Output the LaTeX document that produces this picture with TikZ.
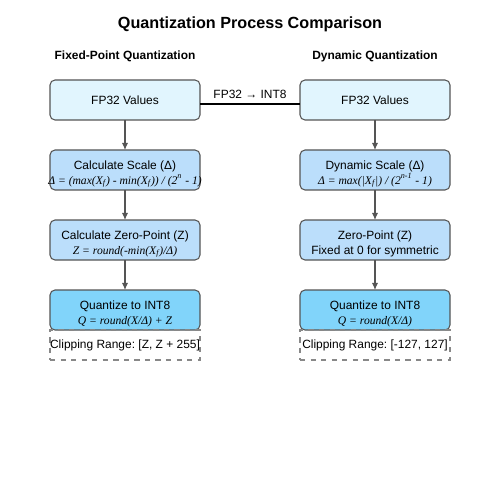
\documentclass[tikz,border=0pt]{standalone}
\usepackage{fontspec}
\setmainfont{Liberation Sans}
\newfontfamily\formfont{Liberation Serif}
\usetikzlibrary{arrows.meta, positioning}
\definecolor{fpfill}{HTML}{E1F5FE}
\definecolor{calcfill}{HTML}{BBDEFB}
\definecolor{quantfill}{HTML}{81D4FA}
\definecolor{edgegray}{HTML}{555555}
\newcommand{\fml}[1]{\makebox[2.8cm]{\formfont\itshape\fontsize{6.6pt}{7.5pt}\selectfont #1}}
\newcommand{\topgap}{\rule{0pt}{9.5pt}}
\frenchspacing

\begin{document}
\begin{tikzpicture}[
        node distance=0.6cm,
        box/.style={rectangle, draw=edgegray, line width=0.6pt, outer sep=0pt, rounded corners=0.1cm, minimum width=3cm, minimum height=0.8cm, align=center, font=\fontsize{6.8pt}{8pt}\selectfont, inner sep=1pt},
        clipbox/.style={rectangle, draw=edgegray!70, dashed, line width=0.6pt, outer sep=0pt, minimum width=3cm, minimum height=0.6cm, inner sep=0pt, font=\fontsize{6.8pt}{8pt}\selectfont},
        flow/.style={-{Latex[length=4pt, width=3.5pt]}, draw=edgegray, line width=0.6pt}
    ]
        \useasboundingbox (0,0) rectangle (10,-10);
        \node[font=\bfseries\fontsize{9.2pt}{11pt}\selectfont] (title) at (5,-0.48) {Quantization Process Comparison};
        \node[font=\bfseries\fontsize{6.8pt}{8pt}\selectfont] (lhead) at (2.5,-1.12) {Fixed-Point Quantization};
        \node[font=\bfseries\fontsize{6.8pt}{8pt}\selectfont] (rhead) at (7.5,-1.12) {Dynamic Quantization};

        % fixed-point column
        \node[box, fill=fpfill] (lfp) at (2.5,-2) {FP32 Values};
        \node[box, fill=calcfill, below=of lfp] (lscale) {\topgap Calculate Scale (Δ)\\[0.5pt]\fml{Δ = (max(X\textsubscript{f}) - min(X\textsubscript{f})) / (2\textsuperscript{n} - 1)}};
        \node[box, fill=calcfill, below=of lscale] (lzero) {\topgap Calculate Zero-Point (Z)\\[0.5pt]\fml{Z = round(-min(X\textsubscript{f})/Δ)}};
        \node[box, fill=quantfill, below=of lzero] (lquant) {\topgap Quantize to INT8\\[0.5pt]\fml{Q = round(X/Δ) + Z}};
        \node[clipbox, below=0cm of lquant] (lclip) {Clipping Range: [Z, Z + 255]};

        % dynamic column
        \node[box, fill=fpfill] (rfp) at (7.5,-2) {FP32 Values};
        \node[box, fill=calcfill, below=of rfp] (rscale) {\topgap Dynamic Scale (Δ)\\[0.5pt]\fml{Δ = max(|X\textsubscript{f}|) / (2\textsuperscript{n-1} - 1)}};
        \node[box, fill=calcfill, below=of rscale] (rzero) {\topgap Zero-Point (Z)\\[0.5pt]Fixed at 0 for symmetric};
        \node[box, fill=quantfill, below=of rzero] (rquant) {\topgap Quantize to INT8\\[0.5pt]\fml{Q = round(X/Δ)}};
        \node[clipbox, below=0cm of rquant] (rclip) {Clipping Range: [-127, 127]};

        \draw[flow] (lfp) -- (lscale);
        \draw[flow] (lscale) -- (lzero);
        \draw[flow] (lzero) -- (lquant);
        \draw[flow] (rfp) -- (rscale);
        \draw[flow] (rscale) -- (rzero);
        \draw[flow] (rzero) -- (rquant);

        \draw[line width=1.1pt] ([yshift=-0.08cm]lfp.east) -- node[above, font=\fontsize{6.8pt}{8pt}\selectfont, yshift=-1pt] {FP32 → INT8} ([yshift=-0.08cm]rfp.west);
    \end{tikzpicture}
\end{document}
